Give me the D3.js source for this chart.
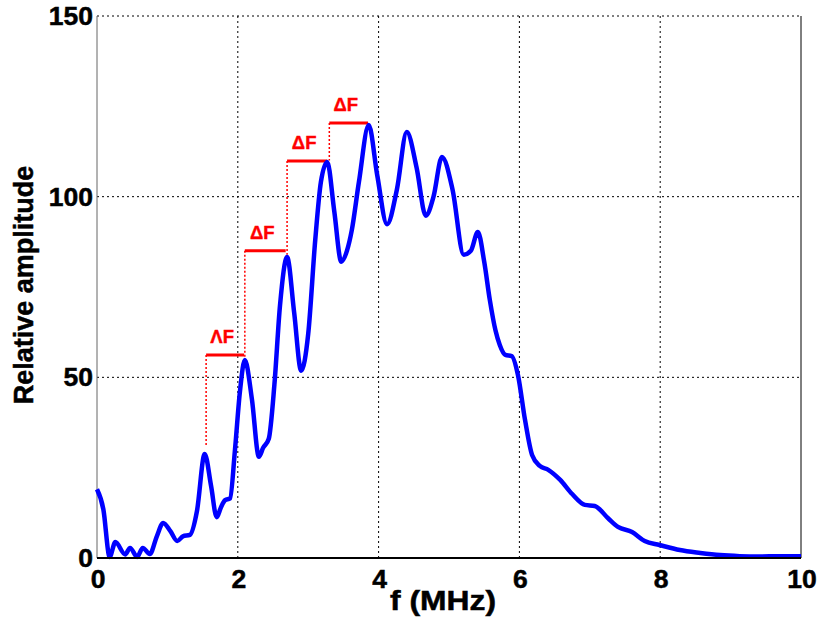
<!DOCTYPE html>
<html><head><meta charset="utf-8">
<script src="https://cdn.jsdelivr.net/npm/d3@7"></script>
<style>body{margin:0;background:#fff;}svg{display:block;font-family:"Liberation Sans",Arial,sans-serif;}</style>
</head><body>
<svg id="c" width="819" height="625"></svg>
<script>
const freq = [0,0.09,0.18,0.26,0.4,0.47,0.57,0.65,0.75,0.85,0.94,1.04,1.14,1.22,1.32,1.42,1.53,1.62,1.70,1.76,1.82,1.89,1.96,2.03,2.10,2.20,2.30,2.36,2.44,2.52,2.60,2.70,2.80,2.90,3.00,3.10,3.18,3.27,3.37,3.47,3.55,3.62,3.72,3.86,3.98,4.12,4.26,4.40,4.54,4.67,4.78,4.90,5.05,5.21,5.31,5.41,5.50,5.58,5.66,5.72,5.80,5.89,5.98,6.08,6.18,6.29,6.41,6.58,6.75,6.93,7.07,7.26,7.40,7.60,7.78,7.99,8.28,8.57,8.85,9.13,9.4,9.7,10];
const amp  = [19,13.5,0.3,4.4,1,2.8,0.3,2.8,1.1,6,9.7,7.5,4.7,6,6.4,13,28.8,20,11.3,14,16,16.5,30,46,54.8,44,28,30.5,33,48,70,83.3,68,51.8,62,88,104,109.6,96,82,85,90.8,104,119.8,106,92.4,102,117.9,108,94.7,100,111,102,83.9,85,90.2,82,71.4,63,59,56.2,55.9,50.6,38.2,28.5,25.5,24.4,21.6,17.7,14.7,14.4,11,8.6,7.2,4.7,3.6,2.2,1.4,0.8,0.5,0.4,0.5,0.5];
const xTicks = [0,2,4,6,8,10];
const yTicks = [0,50,100,150];
// annotations: horizontal bar from f0 to f1 at level, dotted drop from level down to bottom at f0
const annF0 = [1.55,2.10,2.70,3.30];
const annF1 = [2.09,2.68,3.27,3.85];
const annLevel = [56.2,85,109.9,120.4];
const annBottom = [31,55,83.9,110];
const annLabel = ["ΛF","ΔF","ΔF","ΔF"];

const svg = d3.select("#c");
const L=97,R=801,T=16,B=558;
const x = d3.scaleLinear().domain([0,10]).range([L,R]);
const y = d3.scaleLinear().domain([0,150]).range([B,T]);

// grid
const g = svg.append("g");
g.selectAll(".vg").data(xTicks.filter(d=>d>0&&d<10)).enter().append("line")
 .attr("x1",d=>x(d)).attr("x2",d=>x(d)).attr("y1",T).attr("y2",B)
 .attr("stroke","#000").attr("stroke-width",1).attr("stroke-dasharray","2,3");
g.selectAll(".hg").data(yTicks.filter(d=>d>0)).enter().append("line")
 .attr("x1",L).attr("x2",R).attr("y1",d=>y(d)).attr("y2",d=>y(d))
 .attr("stroke","#000").attr("stroke-width",1).attr("stroke-dasharray","2,3");
// right border
svg.append("line").attr("x1",R).attr("x2",R).attr("y1",T).attr("y2",B).attr("stroke","#000").attr("stroke-width",1);
// left axis
svg.append("line").attr("x1",L).attr("x2",L).attr("y1",T).attr("y2",B).attr("stroke","#666").attr("stroke-width",1);

// annotations
const ann = svg.append("g");
annF0.forEach((f0,i)=>{
  ann.append("line").attr("x1",x(f0)).attr("x2",x(f0)).attr("y1",y(annLevel[i])).attr("y2",y(annBottom[i]))
    .attr("stroke","#f00").attr("stroke-width",1.5).attr("stroke-dasharray","2,2");
  ann.append("line").attr("x1",x(f0)).attr("x2",x(annF1[i])).attr("y1",y(annLevel[i])).attr("y2",y(annLevel[i]))
    .attr("stroke","#f00").attr("stroke-width",3);
  ann.append("text").attr("x",(x(f0)+x(annF1[i]))/2-3).attr("y",y(annLevel[i])-12)
    .attr("text-anchor","middle").attr("fill","#f00").attr("stroke","#f00").attr("stroke-width",0.4)
    .attr("font-weight","bold").attr("font-size",18.5).text(annLabel[i]);
});

// curve
const data = freq.map((f,i)=>[f,amp[i]]);
svg.append("path").datum(data)
 .attr("d",d3.line().x(d=>x(d[0])).y(d=>y(d[1])).curve(d3.curveMonotoneX))
 .attr("fill","none").attr("stroke","#0000ff").attr("stroke-width",4.5).attr("stroke-linejoin","round");

// bottom axis line
svg.append("line").attr("x1",L).attr("x2",R).attr("y1",B).attr("y2",B).attr("stroke","#000").attr("stroke-width",2);

// tick labels
const txt = sel => sel.attr("font-weight","bold").attr("fill","#000").attr("stroke","#000").attr("stroke-width",0.5);
svg.selectAll(".xt").data(xTicks).enter().append("text")
 .attr("x",d=>x(d)+1).attr("y",B+30).attr("text-anchor","middle")
 .attr("font-size",26.5).call(txt).text(d=>d);
svg.selectAll(".yt").data(yTicks).enter().append("text")
 .attr("x",L-4).attr("y",d=>y(d)+9).attr("text-anchor","end")
 .attr("font-size",26.5).call(txt).text(d=>d);

svg.append("text").attr("x",443).attr("y",610).attr("text-anchor","middle")
 .attr("font-size",27).attr("textLength",106).attr("lengthAdjust","spacingAndGlyphs").call(txt).text("f (MHz)");
svg.append("text").attr("transform",`translate(33,285) rotate(-90)`).attr("text-anchor","middle")
 .attr("font-size",27).call(txt).text("Relative amplitude");
</script>
</body></html>
